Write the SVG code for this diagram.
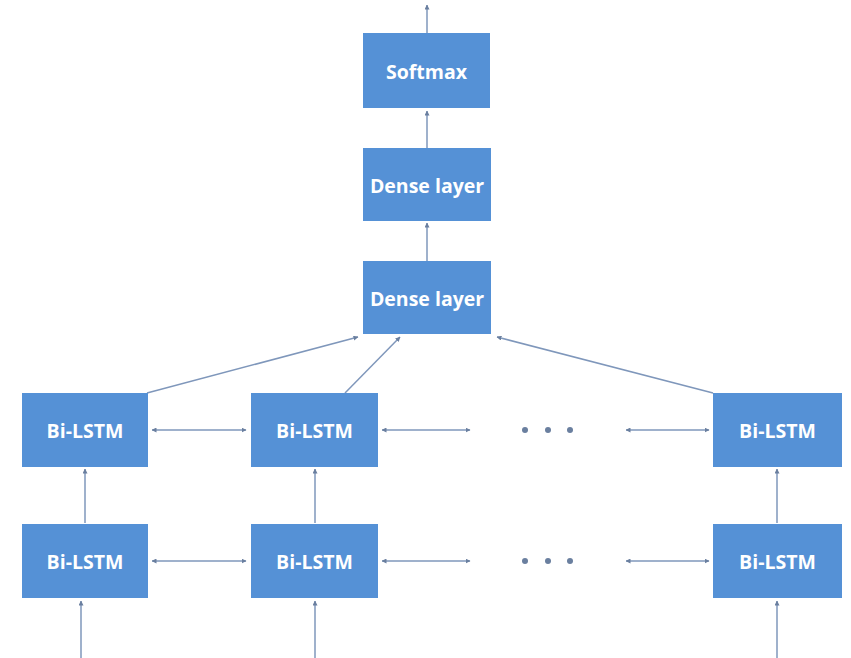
<svg xmlns="http://www.w3.org/2000/svg" width="851" height="658" viewBox="0 0 851 658">
<style>
.box{fill:#5591d6;}
.lbl{fill:#ffffff;font-family:"Open Sans","Liberation Sans",sans-serif;font-weight:bold;font-size:19.5px;text-anchor:middle;dominant-baseline:central;}
.ln{stroke:#7f97bb;stroke-width:1.5;fill:none;}
.dot{fill:#6a7f9f;}
</style>
<defs>
<marker id="ah" viewBox="0 0 10 10" refX="9" refY="5" markerWidth="5" markerHeight="5" orient="auto-start-reverse" markerUnits="userSpaceOnUse">
<path d="M0,0 L10,5 L0,10 z" fill="#6a7f9f"/>
</marker>
</defs>
<rect width="851" height="658" fill="#ffffff"/>
<g id="connectors">
<line class="ln" x1="427" y1="33" x2="427" y2="5" marker-end="url(#ah)"/>
<line class="ln" x1="427" y1="148" x2="427" y2="111" marker-end="url(#ah)"/>
<line class="ln" x1="427" y1="261" x2="427" y2="223" marker-end="url(#ah)"/>
<line class="ln" x1="147" y1="393" x2="358" y2="337" marker-end="url(#ah)"/>
<line class="ln" x1="345" y1="393" x2="400" y2="337" marker-end="url(#ah)"/>
<line class="ln" x1="713" y1="393" x2="497" y2="337" marker-end="url(#ah)"/>
<line class="ln" x1="152" y1="430" x2="246" y2="430" marker-start="url(#ah)" marker-end="url(#ah)"/>
<line class="ln" x1="382" y1="430" x2="470" y2="430" marker-start="url(#ah)" marker-end="url(#ah)"/>
<line class="ln" x1="626" y1="430" x2="709" y2="430" marker-start="url(#ah)" marker-end="url(#ah)"/>
<line class="ln" x1="152" y1="561" x2="246" y2="561" marker-start="url(#ah)" marker-end="url(#ah)"/>
<line class="ln" x1="382" y1="561" x2="470" y2="561" marker-start="url(#ah)" marker-end="url(#ah)"/>
<line class="ln" x1="626" y1="561" x2="709" y2="561" marker-start="url(#ah)" marker-end="url(#ah)"/>
<line class="ln" x1="85" y1="523" x2="85" y2="469" marker-end="url(#ah)"/>
<line class="ln" x1="315" y1="523" x2="315" y2="469" marker-end="url(#ah)"/>
<line class="ln" x1="777" y1="523" x2="777" y2="469" marker-end="url(#ah)"/>
<line class="ln" x1="81" y1="658" x2="81" y2="601" marker-end="url(#ah)"/>
<line class="ln" x1="315" y1="658" x2="315" y2="601" marker-end="url(#ah)"/>
<line class="ln" x1="777" y1="658" x2="777" y2="601" marker-end="url(#ah)"/>
<circle class="dot" cx="525" cy="430" r="3"/>
<circle class="dot" cx="548" cy="430" r="3"/>
<circle class="dot" cx="570" cy="430" r="3"/>
<circle class="dot" cx="525" cy="561" r="3"/>
<circle class="dot" cx="548" cy="561" r="3"/>
<circle class="dot" cx="570" cy="561" r="3"/>
</g>
<g id="softmax"><rect class="box" x="363" y="33" width="127" height="75"/><text class="lbl" x="426.5" y="71">Softmax</text></g>
<g id="dense1"><rect class="box" x="363" y="148" width="128" height="73"/><text class="lbl" x="427" y="185">Dense layer</text></g>
<g id="dense2"><rect class="box" x="363" y="261" width="128" height="73"/><text class="lbl" x="427" y="298">Dense layer</text></g>
<g id="lstm11"><rect class="box" x="22" y="393" width="126" height="74"/><text class="lbl" x="85" y="430">Bi-LSTM</text></g>
<g id="lstm12"><rect class="box" x="251" y="393" width="127" height="74"/><text class="lbl" x="314.5" y="430">Bi-LSTM</text></g>
<g id="lstm13"><rect class="box" x="713" y="393" width="129" height="74"/><text class="lbl" x="777.5" y="430">Bi-LSTM</text></g>
<g id="lstm21"><rect class="box" x="22" y="524" width="126" height="74"/><text class="lbl" x="85" y="561">Bi-LSTM</text></g>
<g id="lstm22"><rect class="box" x="251" y="524" width="127" height="74"/><text class="lbl" x="314.5" y="561">Bi-LSTM</text></g>
<g id="lstm23"><rect class="box" x="713" y="524" width="129" height="74"/><text class="lbl" x="777.5" y="561">Bi-LSTM</text></g>
</svg>
